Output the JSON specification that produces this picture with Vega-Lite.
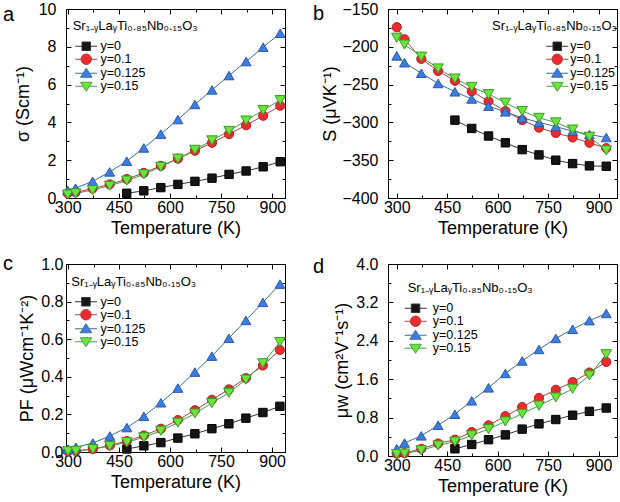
{
"$schema": "https://vega.github.io/schema/vega-lite/v6.json",
"padding": {"left": 2, "top": 0, "right": 0, "bottom": 0},
"config": {
 "font": "Liberation Sans",
 "view": {"stroke": "black", "strokeWidth": 1},
 "axis": {"labelFontSize": 16, "titleFontSize": 18, "titleFontWeight": "normal", "labelColor": "black", "titleColor": "black", "tickColor": "black", "domainColor": "black", "grid": false, "labelFlush": false, "labelOverlap": false},
 "legend": {"titleFontSize": 13, "titleFontWeight": "normal", "titleColor": "black", "labelFontSize": 12.5, "labelColor": "black", "symbolStrokeWidth": 1, "rowPadding": -1.5, "titlePadding": 7, "padding": 0, "titleLimit": 0, "labelLimit": 0},
 "title": {"fontSize": 20, "fontWeight": "normal", "color": "black"}
},
"data": {"values": [
{"T":473,"series":"y=0","sigma":0.25,"S":-297,"PF":0.016,"mu":0.15},
{"T":523,"series":"y=0","sigma":0.38,"S":-308,"PF":0.033,"mu":0.24},
{"T":573,"series":"y=0","sigma":0.55,"S":-318,"PF":0.05,"mu":0.34},
{"T":623,"series":"y=0","sigma":0.72,"S":-327,"PF":0.074,"mu":0.44},
{"T":673,"series":"y=0","sigma":0.88,"S":-336,"PF":0.097,"mu":0.56},
{"T":723,"series":"y=0","sigma":1.05,"S":-343,"PF":0.124,"mu":0.67},
{"T":773,"series":"y=0","sigma":1.25,"S":-350,"PF":0.15,"mu":0.76},
{"T":823,"series":"y=0","sigma":1.43,"S":-354.5,"PF":0.18,"mu":0.85},
{"T":873,"series":"y=0","sigma":1.65,"S":-357.5,"PF":0.21,"mu":0.93},
{"T":923,"series":"y=0","sigma":1.92,"S":-358,"PF":0.243,"mu":1.0},
{"T":300,"series":"y=0.1","sigma":0.25,"S":-174,"PF":0.004,"mu":0.05},
{"T":323,"series":"y=0.1","sigma":0.3,"S":-190,"PF":0.006,"mu":0.06},
{"T":373,"series":"y=0.1","sigma":0.5,"S":-216,"PF":0.015,"mu":0.15},
{"T":423,"series":"y=0.1","sigma":0.72,"S":-232,"PF":0.035,"mu":0.26},
{"T":473,"series":"y=0.1","sigma":1.0,"S":-245,"PF":0.058,"mu":0.34},
{"T":523,"series":"y=0.1","sigma":1.33,"S":-259,"PF":0.088,"mu":0.5},
{"T":573,"series":"y=0.1","sigma":1.7,"S":-272,"PF":0.124,"mu":0.64},
{"T":623,"series":"y=0.1","sigma":2.08,"S":-285,"PF":0.17,"mu":0.83},
{"T":673,"series":"y=0.1","sigma":2.5,"S":-297,"PF":0.222,"mu":1.02},
{"T":723,"series":"y=0.1","sigma":2.92,"S":-307,"PF":0.278,"mu":1.21},
{"T":773,"series":"y=0.1","sigma":3.38,"S":-314,"PF":0.333,"mu":1.38},
{"T":823,"series":"y=0.1","sigma":3.85,"S":-320,"PF":0.393,"mu":1.54},
{"T":873,"series":"y=0.1","sigma":4.35,"S":-327,"PF":0.46,"mu":1.74},
{"T":923,"series":"y=0.1","sigma":4.88,"S":-334,"PF":0.543,"mu":1.96},
{"T":300,"series":"y=0.125","sigma":0.4,"S":-212,"PF":0.015,"mu":0.15},
{"T":323,"series":"y=0.125","sigma":0.52,"S":-221,"PF":0.025,"mu":0.27},
{"T":373,"series":"y=0.125","sigma":0.88,"S":-235,"PF":0.048,"mu":0.42},
{"T":423,"series":"y=0.125","sigma":1.38,"S":-248.5,"PF":0.085,"mu":0.64},
{"T":473,"series":"y=0.125","sigma":1.95,"S":-259.5,"PF":0.13,"mu":0.87},
{"T":523,"series":"y=0.125","sigma":2.65,"S":-269,"PF":0.19,"mu":1.15},
{"T":573,"series":"y=0.125","sigma":3.38,"S":-278.5,"PF":0.262,"mu":1.42},
{"T":623,"series":"y=0.125","sigma":4.15,"S":-286,"PF":0.34,"mu":1.72},
{"T":673,"series":"y=0.125","sigma":4.95,"S":-294,"PF":0.425,"mu":1.98},
{"T":723,"series":"y=0.125","sigma":5.72,"S":-300,"PF":0.51,"mu":2.22},
{"T":773,"series":"y=0.125","sigma":6.48,"S":-305.5,"PF":0.605,"mu":2.45},
{"T":823,"series":"y=0.125","sigma":7.22,"S":-311.7,"PF":0.70,"mu":2.64},
{"T":873,"series":"y=0.125","sigma":7.98,"S":-316,"PF":0.796,"mu":2.82},
{"T":923,"series":"y=0.125","sigma":8.72,"S":-320,"PF":0.893,"mu":2.97},
{"T":300,"series":"y=0.15","sigma":0.18,"S":-188,"PF":0.004,"mu":0.04},
{"T":323,"series":"y=0.15","sigma":0.25,"S":-197,"PF":0.006,"mu":0.05},
{"T":373,"series":"y=0.15","sigma":0.42,"S":-213,"PF":0.015,"mu":0.12},
{"T":423,"series":"y=0.15","sigma":0.65,"S":-228.6,"PF":0.032,"mu":0.22},
{"T":473,"series":"y=0.15","sigma":0.92,"S":-242,"PF":0.052,"mu":0.3},
{"T":523,"series":"y=0.15","sigma":1.25,"S":-253,"PF":0.078,"mu":0.43},
{"T":573,"series":"y=0.15","sigma":1.65,"S":-262.6,"PF":0.113,"mu":0.56},
{"T":623,"series":"y=0.15","sigma":2.08,"S":-274,"PF":0.156,"mu":0.72},
{"T":673,"series":"y=0.15","sigma":2.55,"S":-285,"PF":0.205,"mu":0.88},
{"T":723,"series":"y=0.15","sigma":3.05,"S":-294,"PF":0.26,"mu":1.05},
{"T":773,"series":"y=0.15","sigma":3.55,"S":-300,"PF":0.315,"mu":1.22},
{"T":823,"series":"y=0.15","sigma":4.1,"S":-309.5,"PF":0.385,"mu":1.4},
{"T":873,"series":"y=0.15","sigma":4.65,"S":-319,"PF":0.472,"mu":1.68},
{"T":923,"series":"y=0.15","sigma":5.18,"S":-337,"PF":0.585,"mu":2.12}
]},
"bounds": "flush",
"columns": 2,
"spacing": {"row": 66, "column": 103},
"concat": [
{
 "width": 219, "height": 189,
 "title": {"text": "a", "anchor": "start", "frame": "group", "dx": -63, "dy": 40, "offset": 0, "baseline": "alphabetic"},
 "layer": [
  {"mark": {"type": "line", "strokeWidth": 1},
   "encoding": {
    "x": {"field": "T", "type": "quantitative", "scale": {"domain": [295, 937], "nice": false, "zero": false},
      "axis": {"orient": "bottom", "values": [300,375,450,525,600,675,750,825,900], "labelExpr": "datum.value % 150 == 0 ? datum.label : ''", "tickSize": {"condition": {"test": "datum.value % 150 == 0", "value": -5}, "value": -3}, "title": "Temperature (K)", "labelPadding": 6, "titlePadding": 2}},
    "y": {"field": "sigma", "type": "quantitative", "scale": {"domain": [0, 10], "nice": false},
      "axis": {"orient": "left", "values": [0,1,2,3,4,5,6,7,8,9,10], "labelExpr": "datum.value % 2 == 0 ? datum.label : ''", "tickSize": {"condition": {"test": "datum.value % 2 == 0", "value": -5}, "value": -3}, "title": "σ (Scm⁻¹)", "labelPadding": 15, "titlePadding": 6}},
    "stroke": {"field": "series", "type": "nominal", "scale": {"domain": ["y=0","y=0.1","y=0.125","y=0.15"], "range": ["#333333","#a8453c","#3b6d96","#44a044"]}, "legend": null}
   }},
  {"mark": {"type": "point", "filled": true, "opacity": 1, "strokeWidth": 1},
   "encoding": {
    "x": {"field": "T", "type": "quantitative", "axis": null},
    "y": {"field": "sigma", "type": "quantitative", "axis": null},
    "fill": {"field": "series", "type": "nominal", "scale": {"domain": ["y=0","y=0.1","y=0.125","y=0.15"], "range": ["#151515","#ee2a2e","#3b7de8","#6ae63a"]}, "legend": null},
    "stroke": {"field": "series", "type": "nominal", "scale": {"domain": ["y=0","y=0.1","y=0.125","y=0.15"], "range": ["#000000","#b02020","#2a5aa0","#3a9a2a"]}, "legend": null},
    "shape": {"field": "series", "type": "nominal", "scale": {"domain": ["y=0","y=0.1","y=0.125","y=0.15"], "range": ["square","circle","triangle-up","triangle-down"]}, "legend": null},
    "size": {"field": "series", "type": "nominal", "scale": {"domain": ["y=0","y=0.1","y=0.125","y=0.15"], "range": [70,110,130,130]}, "legend": null}
   }},
  {"transform": [{"filter": "false"}],
   "mark": {"type": "point", "filled": true, "opacity": 1, "strokeWidth": 1, "size": 100},
   "encoding": {
    "x": {"field": "T", "type": "quantitative", "axis": {"orient": "top", "labels": false, "title": null, "values": [300,375,450,525,600,675,750,825,900], "tickSize": {"condition": {"test": "datum.value % 150 == 0", "value": -5}, "value": -3}}},
    "y": {"field": "sigma", "type": "quantitative", "axis": {"orient": "right", "labels": false, "title": null, "values": [0,1,2,3,4,5,6,7,8,9,10], "tickSize": {"condition": {"test": "datum.value % 2 == 0", "value": -5}, "value": -3}}},
    "fill": {"field": "series", "type": "nominal", "scale": {"domain": ["y=0","y=0.1","y=0.125","y=0.15"], "range": ["#151515","#ee2a2e","#3b7de8","#6ae63a"]},
      "legend": {"title": "Sr₁₋ᵧLaᵧTi₀.₈₅Nb₀.₁₅O₃", "orient": "none", "legendX": 6.7, "legendY": 11, "symbolOffset": 7.3, "labelOffset": 8}},
    "stroke": {"field": "series", "type": "nominal", "scale": {"domain": ["y=0","y=0.1","y=0.125","y=0.15"], "range": ["#333333","#a8453c","#3b6d96","#44a044"]},
      "legend": {"title": "Sr₁₋ᵧLaᵧTi₀.₈₅Nb₀.₁₅O₃", "orient": "none", "legendX": 6.7, "legendY": 11, "symbolOffset": 7.3, "labelOffset": 8}},
    "shape": {"field": "series", "type": "nominal", "scale": {"domain": ["y=0","y=0.1","y=0.125","y=0.15"], "range": ["M-2.2,0H-0.85M0.85,0H2.2M-0.85,-0.85H0.85V0.85H-0.85Z","M-2.2,0H-1.05M1.05,0H2.2M-1.05,0A1.05,1.05,0,1,1,1.05,0A1.05,1.05,0,1,1,-1.05,0Z","M-2.2,0H-0.64M0.64,0H2.2M0,-1L1.15,0.8H-1.15Z","M-2.2,0H-0.64M0.64,0H2.2M0,1L1.15,-0.8H-1.15Z"]},
      "legend": {"title": "Sr₁₋ᵧLaᵧTi₀.₈₅Nb₀.₁₅O₃", "orient": "none", "legendX": 6.7, "legendY": 11, "symbolOffset": 7.3, "labelOffset": 8}}
   }}
 ],
 "resolve": {"scale": {"shape": "independent", "fill": "independent", "stroke": "independent"}, "axis": {"x": "independent", "y": "independent"}}
},
{
 "width": 229, "height": 189,
 "title": {"text": "b", "anchor": "start", "frame": "group", "dx": -75, "dy": 39, "offset": 0, "baseline": "alphabetic"},
 "layer": [
  {"mark": {"type": "line", "strokeWidth": 1},
   "encoding": {
    "x": {"field": "T", "type": "quantitative", "scale": {"domain": [274, 955], "nice": false, "zero": false},
      "axis": {"orient": "bottom", "values": [300,375,450,525,600,675,750,825,900], "labelExpr": "datum.value % 150 == 0 ? datum.label : ''", "tickSize": {"condition": {"test": "datum.value % 150 == 0", "value": -5}, "value": -3}, "title": "Temperature (K)", "labelPadding": 6, "titlePadding": 2}},
    "y": {"field": "S", "type": "quantitative", "scale": {"domain": [-400, -150], "nice": false, "zero": false},
      "axis": {"orient": "left", "values": [-400,-375,-350,-325,-300,-275,-250,-225,-200,-175,-150], "labelExpr": "datum.value % 50 == 0 ? datum.label : ''", "tickSize": {"condition": {"test": "datum.value % 50 == 0", "value": -5}, "value": -3}, "title": "S (μVK⁻¹)", "labelPadding": 15, "titlePadding": 2}},
    "stroke": {"field": "series", "type": "nominal", "scale": {"domain": ["y=0","y=0.1","y=0.125","y=0.15"], "range": ["#333333","#a8453c","#3b6d96","#44a044"]}, "legend": null}
   }},
  {"mark": {"type": "point", "filled": true, "opacity": 1, "strokeWidth": 1},
   "encoding": {
    "x": {"field": "T", "type": "quantitative", "axis": null},
    "y": {"field": "S", "type": "quantitative", "axis": null},
    "fill": {"field": "series", "type": "nominal", "scale": {"domain": ["y=0","y=0.1","y=0.125","y=0.15"], "range": ["#151515","#ee2a2e","#3b7de8","#6ae63a"]}, "legend": null},
    "stroke": {"field": "series", "type": "nominal", "scale": {"domain": ["y=0","y=0.1","y=0.125","y=0.15"], "range": ["#000000","#b02020","#2a5aa0","#3a9a2a"]}, "legend": null},
    "shape": {"field": "series", "type": "nominal", "scale": {"domain": ["y=0","y=0.1","y=0.125","y=0.15"], "range": ["square","circle","triangle-up","triangle-down"]}, "legend": null},
    "size": {"field": "series", "type": "nominal", "scale": {"domain": ["y=0","y=0.1","y=0.125","y=0.15"], "range": [70,110,130,130]}, "legend": null}
   }},
  {"transform": [{"filter": "false"}],
   "mark": {"type": "point", "filled": true, "opacity": 1, "strokeWidth": 1, "size": 100},
   "encoding": {
    "x": {"field": "T", "type": "quantitative", "axis": {"orient": "top", "labels": false, "title": null, "values": [300,375,450,525,600,675,750,825,900], "tickSize": {"condition": {"test": "datum.value % 150 == 0", "value": -5}, "value": -3}}},
    "y": {"field": "S", "type": "quantitative", "axis": {"orient": "right", "labels": false, "title": null, "values": [-400,-375,-350,-325,-300,-275,-250,-225,-200,-175,-150], "tickSize": {"condition": {"test": "datum.value % 50 == 0", "value": -5}, "value": -3}}},
    "fill": {"field": "series", "type": "nominal", "scale": {"domain": ["y=0","y=0.1","y=0.125","y=0.15"], "range": ["#151515","#ee2a2e","#3b7de8","#6ae63a"]},
      "legend": {"title": "Sr₁₋ᵧLaᵧTi₀.₈₅Nb₀.₁₅O₃", "orient": "none", "legendX": 104, "legendY": 11, "symbolOffset": 59, "labelOffset": 6.7}},
    "stroke": {"field": "series", "type": "nominal", "scale": {"domain": ["y=0","y=0.1","y=0.125","y=0.15"], "range": ["#333333","#a8453c","#3b6d96","#44a044"]},
      "legend": {"title": "Sr₁₋ᵧLaᵧTi₀.₈₅Nb₀.₁₅O₃", "orient": "none", "legendX": 104, "legendY": 11, "symbolOffset": 59, "labelOffset": 6.7}},
    "shape": {"field": "series", "type": "nominal", "scale": {"domain": ["y=0","y=0.1","y=0.125","y=0.15"], "range": ["M-2.2,0H-0.85M0.85,0H2.2M-0.85,-0.85H0.85V0.85H-0.85Z","M-2.2,0H-1.05M1.05,0H2.2M-1.05,0A1.05,1.05,0,1,1,1.05,0A1.05,1.05,0,1,1,-1.05,0Z","M-2.2,0H-0.64M0.64,0H2.2M0,-1L1.15,0.8H-1.15Z","M-2.2,0H-0.64M0.64,0H2.2M0,1L1.15,-0.8H-1.15Z"]},
      "legend": {"title": "Sr₁₋ᵧLaᵧTi₀.₈₅Nb₀.₁₅O₃", "orient": "none", "legendX": 104, "legendY": 11, "symbolOffset": 59, "labelOffset": 6.7}}
   }}
 ],
 "resolve": {"scale": {"shape": "independent", "fill": "independent", "stroke": "independent"}, "axis": {"x": "independent", "y": "independent"}}
},
{
 "width": 219, "height": 188,
 "title": {"text": "c", "anchor": "start", "frame": "group", "dx": -63, "dy": 34, "offset": 0, "baseline": "alphabetic"},
 "layer": [
  {"mark": {"type": "line", "strokeWidth": 1},
   "encoding": {
    "x": {"field": "T", "type": "quantitative", "scale": {"domain": [294, 938], "nice": false, "zero": false},
      "axis": {"orient": "bottom", "values": [300,375,450,525,600,675,750,825,900], "labelExpr": "datum.value % 150 == 0 ? datum.label : ''", "tickSize": {"condition": {"test": "datum.value % 150 == 0", "value": -5}, "value": -3}, "title": "Temperature (K)", "labelPadding": 6, "titlePadding": 2}},
    "y": {"field": "PF", "type": "quantitative", "scale": {"domain": [0, 1], "nice": false},
      "axis": {"orient": "left", "values": [0,0.1,0.2,0.3,0.4,0.5,0.6,0.7,0.8,0.9,1.0], "format": ".1f", "labelExpr": "round(datum.value*10) % 2 == 0 ? datum.label : ''", "tickSize": {"condition": {"test": "round(datum.value*10) % 2 == 0", "value": -5}, "value": -3}, "title": "PF (μWcm⁻¹K⁻²)", "labelPadding": 8, "titlePadding": 4}},
    "stroke": {"field": "series", "type": "nominal", "scale": {"domain": ["y=0","y=0.1","y=0.125","y=0.15"], "range": ["#333333","#a8453c","#3b6d96","#44a044"]}, "legend": null}
   }},
  {"mark": {"type": "point", "filled": true, "opacity": 1, "strokeWidth": 1},
   "encoding": {
    "x": {"field": "T", "type": "quantitative", "axis": null},
    "y": {"field": "PF", "type": "quantitative", "axis": null},
    "fill": {"field": "series", "type": "nominal", "scale": {"domain": ["y=0","y=0.1","y=0.125","y=0.15"], "range": ["#151515","#ee2a2e","#3b7de8","#6ae63a"]}, "legend": null},
    "stroke": {"field": "series", "type": "nominal", "scale": {"domain": ["y=0","y=0.1","y=0.125","y=0.15"], "range": ["#000000","#b02020","#2a5aa0","#3a9a2a"]}, "legend": null},
    "shape": {"field": "series", "type": "nominal", "scale": {"domain": ["y=0","y=0.1","y=0.125","y=0.15"], "range": ["square","circle","triangle-up","triangle-down"]}, "legend": null},
    "size": {"field": "series", "type": "nominal", "scale": {"domain": ["y=0","y=0.1","y=0.125","y=0.15"], "range": [70,110,130,130]}, "legend": null}
   }},
  {"transform": [{"filter": "false"}],
   "mark": {"type": "point", "filled": true, "opacity": 1, "strokeWidth": 1, "size": 100},
   "encoding": {
    "x": {"field": "T", "type": "quantitative", "axis": {"orient": "top", "labels": false, "title": null, "values": [300,375,450,525,600,675,750,825,900], "tickSize": {"condition": {"test": "datum.value % 150 == 0", "value": -5}, "value": -3}}},
    "y": {"field": "PF", "type": "quantitative", "axis": {"orient": "right", "labels": false, "title": null, "values": [0,0.1,0.2,0.3,0.4,0.5,0.6,0.7,0.8,0.9,1.0], "tickSize": {"condition": {"test": "round(datum.value*10) % 2 == 0", "value": -5}, "value": -3}}},
    "fill": {"field": "series", "type": "nominal", "scale": {"domain": ["y=0","y=0.1","y=0.125","y=0.15"], "range": ["#151515","#ee2a2e","#3b7de8","#6ae63a"]},
      "legend": {"title": "Sr₁₋ᵧLaᵧTi₀.₈₅Nb₀.₁₅O₃", "orient": "none", "legendX": 5.3, "legendY": 11.5, "symbolOffset": 8.4, "labelOffset": 8.3}},
    "stroke": {"field": "series", "type": "nominal", "scale": {"domain": ["y=0","y=0.1","y=0.125","y=0.15"], "range": ["#333333","#a8453c","#3b6d96","#44a044"]},
      "legend": {"title": "Sr₁₋ᵧLaᵧTi₀.₈₅Nb₀.₁₅O₃", "orient": "none", "legendX": 5.3, "legendY": 11.5, "symbolOffset": 8.4, "labelOffset": 8.3}},
    "shape": {"field": "series", "type": "nominal", "scale": {"domain": ["y=0","y=0.1","y=0.125","y=0.15"], "range": ["M-2.2,0H-0.85M0.85,0H2.2M-0.85,-0.85H0.85V0.85H-0.85Z","M-2.2,0H-1.05M1.05,0H2.2M-1.05,0A1.05,1.05,0,1,1,1.05,0A1.05,1.05,0,1,1,-1.05,0Z","M-2.2,0H-0.64M0.64,0H2.2M0,-1L1.15,0.8H-1.15Z","M-2.2,0H-0.64M0.64,0H2.2M0,1L1.15,-0.8H-1.15Z"]},
      "legend": {"title": "Sr₁₋ᵧLaᵧTi₀.₈₅Nb₀.₁₅O₃", "orient": "none", "legendX": 5.3, "legendY": 11.5, "symbolOffset": 8.4, "labelOffset": 8.3}}
   }}
 ],
 "resolve": {"scale": {"shape": "independent", "fill": "independent", "stroke": "independent"}, "axis": {"x": "independent", "y": "independent"}}
},
{
 "width": 229, "height": 192,
 "title": {"text": "d", "anchor": "start", "frame": "group", "dx": -75, "dy": 37, "offset": 0, "baseline": "alphabetic"},
 "layer": [
  {"mark": {"type": "line", "strokeWidth": 1},
   "encoding": {
    "x": {"field": "T", "type": "quantitative", "scale": {"domain": [274, 955], "nice": false, "zero": false},
      "axis": {"orient": "bottom", "values": [300,375,450,525,600,675,750,825,900], "labelExpr": "datum.value % 150 == 0 ? datum.label : ''", "tickSize": {"condition": {"test": "datum.value % 150 == 0", "value": -5}, "value": -3}, "title": "Temperature (K)", "labelPadding": 6, "titlePadding": 2}},
    "y": {"field": "mu", "type": "quantitative", "scale": {"domain": [0, 4], "nice": false},
      "axis": {"orient": "left", "values": [0,0.4,0.8,1.2,1.6,2.0,2.4,2.8,3.2,3.6,4.0], "format": ".1f", "labelExpr": "round(datum.value/0.4) % 2 == 0 ? datum.label : ''", "tickSize": {"condition": {"test": "round(datum.value/0.4) % 2 == 0", "value": -5}, "value": -3}, "title": "μw (cm²V⁻¹s⁻¹)", "labelPadding": 15, "titlePadding": 4}},
    "stroke": {"field": "series", "type": "nominal", "scale": {"domain": ["y=0","y=0.1","y=0.125","y=0.15"], "range": ["#333333","#a8453c","#3b6d96","#44a044"]}, "legend": null}
   }},
  {"mark": {"type": "point", "filled": true, "opacity": 1, "strokeWidth": 1},
   "encoding": {
    "x": {"field": "T", "type": "quantitative", "axis": null},
    "y": {"field": "mu", "type": "quantitative", "axis": null},
    "fill": {"field": "series", "type": "nominal", "scale": {"domain": ["y=0","y=0.1","y=0.125","y=0.15"], "range": ["#151515","#ee2a2e","#3b7de8","#6ae63a"]}, "legend": null},
    "stroke": {"field": "series", "type": "nominal", "scale": {"domain": ["y=0","y=0.1","y=0.125","y=0.15"], "range": ["#000000","#b02020","#2a5aa0","#3a9a2a"]}, "legend": null},
    "shape": {"field": "series", "type": "nominal", "scale": {"domain": ["y=0","y=0.1","y=0.125","y=0.15"], "range": ["square","circle","triangle-up","triangle-down"]}, "legend": null},
    "size": {"field": "series", "type": "nominal", "scale": {"domain": ["y=0","y=0.1","y=0.125","y=0.15"], "range": [70,110,130,130]}, "legend": null}
   }},
  {"transform": [{"filter": "false"}],
   "mark": {"type": "point", "filled": true, "opacity": 1, "strokeWidth": 1, "size": 100},
   "encoding": {
    "x": {"field": "T", "type": "quantitative", "axis": {"orient": "top", "labels": false, "title": null, "values": [300,375,450,525,600,675,750,825,900], "tickSize": {"condition": {"test": "datum.value % 150 == 0", "value": -5}, "value": -3}}},
    "y": {"field": "mu", "type": "quantitative", "axis": {"orient": "right", "labels": false, "title": null, "values": [0,0.4,0.8,1.2,1.6,2.0,2.4,2.8,3.2,3.6,4.0], "tickSize": {"condition": {"test": "round(datum.value/0.4) % 2 == 0", "value": -5}, "value": -3}}},
    "fill": {"field": "series", "type": "nominal", "scale": {"domain": ["y=0","y=0.1","y=0.125","y=0.15"], "range": ["#151515","#ee2a2e","#3b7de8","#6ae63a"]},
      "legend": {"title": "Sr₁₋ᵧLaᵧTi₀.₈₅Nb₀.₁₅O₃", "orient": "none", "legendX": 19.7, "legendY": 18, "symbolOffset": 1.6, "labelOffset": 11}},
    "stroke": {"field": "series", "type": "nominal", "scale": {"domain": ["y=0","y=0.1","y=0.125","y=0.15"], "range": ["#333333","#a8453c","#3b6d96","#44a044"]},
      "legend": {"title": "Sr₁₋ᵧLaᵧTi₀.₈₅Nb₀.₁₅O₃", "orient": "none", "legendX": 19.7, "legendY": 18, "symbolOffset": 1.6, "labelOffset": 11}},
    "shape": {"field": "series", "type": "nominal", "scale": {"domain": ["y=0","y=0.1","y=0.125","y=0.15"], "range": ["M-2.2,0H-0.85M0.85,0H2.2M-0.85,-0.85H0.85V0.85H-0.85Z","M-2.2,0H-1.05M1.05,0H2.2M-1.05,0A1.05,1.05,0,1,1,1.05,0A1.05,1.05,0,1,1,-1.05,0Z","M-2.2,0H-0.64M0.64,0H2.2M0,-1L1.15,0.8H-1.15Z","M-2.2,0H-0.64M0.64,0H2.2M0,1L1.15,-0.8H-1.15Z"]},
      "legend": {"title": "Sr₁₋ᵧLaᵧTi₀.₈₅Nb₀.₁₅O₃", "orient": "none", "legendX": 19.7, "legendY": 18, "symbolOffset": 1.6, "labelOffset": 11}}
   }}
 ],
 "resolve": {"scale": {"shape": "independent", "fill": "independent", "stroke": "independent"}, "axis": {"x": "independent", "y": "independent"}}
}
]
}
